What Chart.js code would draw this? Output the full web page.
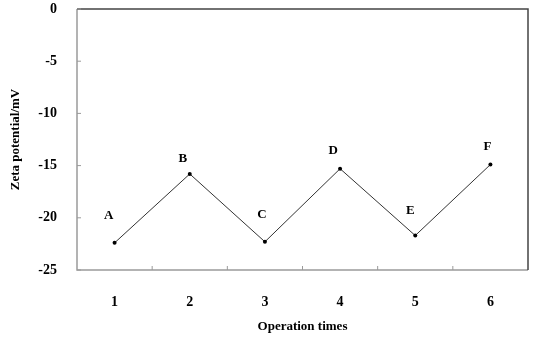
<!DOCTYPE html>
<html>
<head>
<meta charset="utf-8">
<script src="https://cdn.jsdelivr.net/npm/chart.js@4/dist/chart.umd.min.js"></script>
<style>
  html, body { margin: 0; padding: 0; background: #fff; }
  #wrap { width: 536px; height: 338px; }
</style>
</head>
<body>
<div id="wrap"><canvas id="zeta" width="536" height="338"></canvas></div>
<script>
const operationTimes = ['1', '2', '3', '4', '5', '6'];
const zetaValues = [-22.4, -15.8, -22.3, -15.3, -21.7, -14.9];
const pointNames = ['A', 'B', 'C', 'D', 'E', 'F'];
const yTicks = [0, -5, -10, -15, -20, -25];

// where each letter sits relative to its point (px)
const nameOffsets = [[-6, -27], [-7, -15], [-3, -27], [-7, -18], [-5, -25], [-3, -18]];

const serif = '"Liberation Serif", "DejaVu Serif", serif';

const frame = {
    id: 'frame',
    afterDatasetsDraw(chart) {
        const c = chart.ctx;
        const a = chart.chartArea;
        const xs = chart.scales.x, ys = chart.scales.y;
        c.save();
        c.lineWidth = 1.5;
        // left + bottom grey, top + right dark
        c.strokeStyle = '#9a9a9a';
        c.beginPath();
        c.moveTo(a.left, a.top); c.lineTo(a.left, a.bottom); c.lineTo(a.right, a.bottom);
        c.stroke();
        c.strokeStyle = '#444';
        c.beginPath();
        c.moveTo(a.left, a.top); c.lineTo(a.right, a.top); c.lineTo(a.right, a.bottom);
        c.stroke();
        // small inward ticks
        c.lineWidth = 1;
        c.strokeStyle = '#9a9a9a';
        c.beginPath();
        yTicks.forEach(v => {
            const y = ys.getPixelForValue(v);
            c.moveTo(a.left, y); c.lineTo(a.left + 4, y);
        });
        for (let i = 1; i < operationTimes.length; i++) {
            const x = (xs.getPixelForValue(i - 1) + xs.getPixelForValue(i)) / 2;
            c.moveTo(x, a.bottom); c.lineTo(x, a.bottom - 4);
        }
        c.stroke();
        // point letters
        c.fillStyle = '#000';
        c.font = 'bold 13px ' + serif;
        c.textAlign = 'center';
        c.textBaseline = 'middle';
        const meta = chart.getDatasetMeta(0);
        meta.data.forEach((p, i) => {
            c.fillText(pointNames[i], p.x + nameOffsets[i][0], p.y + nameOffsets[i][1]);
        });
        c.restore();
    }
};

new Chart(document.getElementById('zeta').getContext('2d'), {
    type: 'line',
    data: {
        labels: operationTimes,
        datasets: [{
            data: zetaValues,
            borderColor: '#333',
            borderWidth: 1,
            pointRadius: 2,
            pointBackgroundColor: '#000',
            pointBorderWidth: 0,
            tension: 0
        }]
    },
    options: {
        responsive: false,
        animation: false,
        layout: { padding: { top: 0, right: 8, left: 0, bottom: 0 } },
        plugins: { legend: { display: false }, tooltip: { enabled: false } },
        scales: {
            x: {
                offset: true,
                afterFit(s) { s.height = 68; },
                border: { display: false },
                grid: { display: false },
                ticks: { color: '#000', padding: 16, font: { family: serif, size: 14, weight: 'bold' } },
                title: {
                    display: true,
                    text: 'Operation times',
                    color: '#000',
                    padding: { top: 10, bottom: 4 },
                    font: { family: serif, size: 13, weight: 'bold' }
                }
            },
            y: {
                min: -25,
                max: 0,
                afterFit(s) { s.width = 77; s.paddingTop = 9; s.paddingBottom = 0; },
                border: { display: false },
                grid: { display: false },
                ticks: { stepSize: 5, color: '#000', padding: 12, font: { family: serif, size: 14, weight: 'bold' } },
                title: {
                    display: true,
                    text: 'Zeta potential/mV',
                    color: '#000',
                    padding: { top: 8, bottom: 0 },
                    font: { family: serif, size: 13, weight: 'bold' }
                }
            }
        }
    },
    plugins: [frame]
});
</script>
</body>
</html>
